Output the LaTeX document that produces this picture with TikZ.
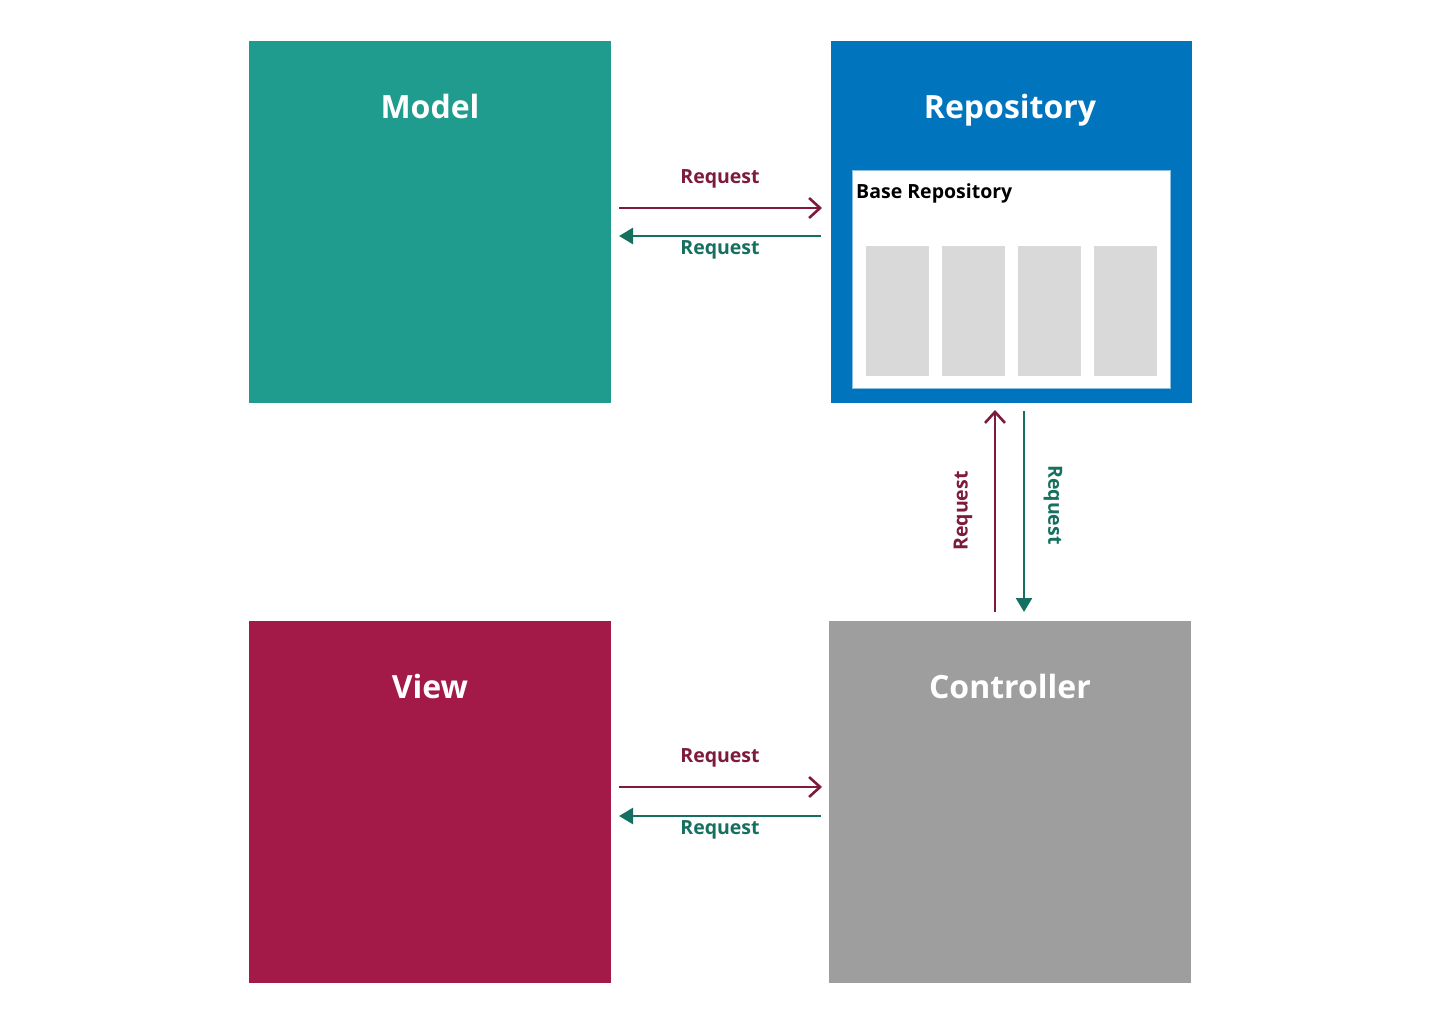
\documentclass[tikz,border=0pt]{standalone}
\usepackage{fontspec}
\setmainfont{Open Sans}
\usetikzlibrary{arrows.meta}
\definecolor{cmodel}{HTML}{209C8F}
\definecolor{crepo}{HTML}{0074BD}
\definecolor{cview}{HTML}{A31948}
\definecolor{cctrl}{HTML}{9E9E9E}
\definecolor{cbar}{HTML}{D9D9D9}
\definecolor{cmaroon}{HTML}{7E1A3E}
\definecolor{cteal}{HTML}{16705F}
\tikzset{
  box/.style={draw=none,minimum width=362pt,minimum height=362pt,inner sep=0pt,outer sep=0pt},
  title/.style={text=white,font=\fontsize{32}{36}\selectfont\bfseries,inner sep=0pt,anchor=base},
  lbl/.style={font=\fontsize{19.5}{22}\selectfont\bfseries,inner sep=0pt},
  reqfwd/.style={draw=cmaroon,line width=2.6pt,-{Straight Barb[length=11pt,width=20pt,line width=2.6pt]}},
  reqback/.style={draw=cteal,line width=2.6pt,-{Triangle[length=14pt,width=16pt]}},
  bar/.style={fill=cbar,draw=none,minimum width=63pt,minimum height=129pt,inner sep=0pt}
}
\begin{document}
\begin{tikzpicture}[x=1pt,y=-1pt]
\useasboundingbox[fill=white] (0,0) rectangle (1440,1024);
\node[box,fill=cmodel] (model) at (430,222) {};
\node[box,fill=crepo,minimum width=361pt] (repo) at (1011.5,222) {};
\node[box,fill=cview] (view) at (430,802) {};
\node[box,fill=cctrl] (ctrl) at (1010,802) {};
\node[title] (tmodel) at (430,118.5) {Model};
\node[title] (trepo) at (1010,118.5) {Repository};
\node[title] (tview) at (430,698.5) {View};
\node[title] (tctrl) at (1010,698.5) {Controller};
\node[fill=white,draw=crepo!45,line width=1pt,minimum width=318pt,minimum height=217pt,inner sep=0pt] (base) at (1011,279.5) {};
\node[anchor=base west,inner sep=0pt,font=\fontsize{19.5}{22}\selectfont\bfseries] (tbase) at (856,199) {Base Repository};
\node[bar] (b1) at (897.5,311) {};
\node[bar] (b2) at (973.5,311) {};
\node[bar] (b3) at (1049,311) {};
\node[bar] (b4) at (1125,311) {};
% top horizontal arrows
\draw[reqfwd] ([shift={(8,-14)}]model.east) -- ([shift={(-9,-14)}]repo.west);
\draw[reqback] ([shift={(-10,14)}]repo.west) -- ([shift={(8,14)}]model.east);
\node[lbl,text=cmaroon,anchor=base] (l1) at (720,184) {Request};
\node[lbl,text=cteal,anchor=base] (l2) at (720,254.5) {Request};
% vertical arrows
\draw[reqfwd] ([shift={(-15,-9)}]ctrl.north) -- ([shift={(-16.5,7)}]repo.south);
\draw[reqback] ([shift={(12.5,8)}]repo.south) -- ([shift={(14,-9)}]ctrl.north);
\node[lbl,text=cmaroon,rotate=90] (l3) at (963,511) {Request};
\node[lbl,text=cteal,rotate=-90] (l4) at (1053,505) {Request};
% bottom horizontal arrows
\draw[reqfwd] ([shift={(8,-15)}]view.east) -- ([shift={(-7,-15)}]ctrl.west);
\draw[reqback] ([shift={(-8,14)}]ctrl.west) -- ([shift={(8,14)}]view.east);
\node[lbl,text=cmaroon,anchor=base] (l5) at (720,762) {Request};
\node[lbl,text=cteal,anchor=base] (l6) at (720,834.5) {Request};
\end{tikzpicture}
\end{document}
